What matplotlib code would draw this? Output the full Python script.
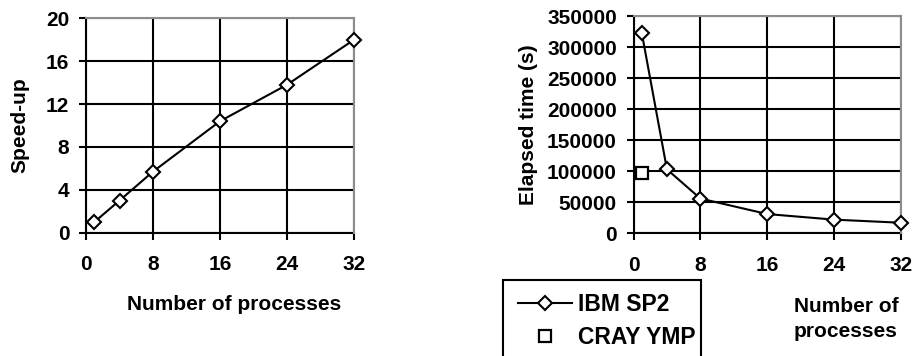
import matplotlib
matplotlib.use("Agg")
import matplotlib.pyplot as plt
from matplotlib.patches import Rectangle

# ---- data ----
procs = [1, 4, 8, 16, 24, 32]
speedup = [1.0, 3.0, 5.7, 10.4, 13.8, 18.0]
ibm_time = [322000, 103000, 56000, 31000, 22000, 17000]
cray_procs = [1]
cray_time = [97000]

x_ticks = [0, 8, 16, 24, 32]
speed_ticks = [0, 4, 8, 12, 16, 20]
time_ticks = [0, 50000, 100000, 150000, 200000, 250000, 300000, 350000]

W, H = 913, 356
FS = 15
LFS = 16.5
plt.rcParams['font.family'] = ['Liberation Sans', 'DejaVu Sans']
plt.rcParams['font.weight'] = 'bold'

fig = plt.figure(figsize=(W / 100, H / 100), dpi=100)

GRID_LW = 1.5
GRAY = '#8c8c8c'


def px_axes(x0, x1, ytop, ybot):
    return fig.add_axes([x0 / W, 1 - ybot / H, (x1 - x0) / W, (ybot - ytop) / H])


def style(ax, xt, yt, ylim):
    ax.set_xlim(0, 32)
    ax.set_ylim(*ylim)
    ax.set_xticks(xt)
    ax.set_yticks(yt)
    ax.grid(True, color='black', linewidth=GRID_LW)
    ax.set_axisbelow(True)
    for s in ['left', 'bottom']:
        ax.spines[s].set_color('black')
        ax.spines[s].set_linewidth(GRID_LW)
    for s in ['top', 'right']:
        ax.spines[s].set_color(GRAY)
        ax.spines[s].set_linewidth(GRID_LW)
        ax.spines[s].set_zorder(2.6)
    ax.tick_params(axis='both', direction='out', length=5, width=GRID_LW,
                   labelsize=FS, color='black')
    ax.tick_params(axis='y', pad=7)
    ax.tick_params(axis='x', pad=11)


# left chart
ax1 = px_axes(86, 354, 18.3, 232.7)
style(ax1, x_ticks, speed_ticks, (0, 20))
ax1.plot(procs, speedup, color='black', linewidth=1.5, marker='D',
         markersize=7.5, markerfacecolor='white', markeredgecolor='black',
         markeredgewidth=1.5, clip_on=False, zorder=3)
ax1.set_ylabel('Speed-up', fontsize=FS, fontweight='bold')
ax1.yaxis.set_label_coords((29 - 86) / 268, 0.5)
fig.text(234 / W, 1 - 310 / H, 'Number of processes', fontsize=FS,
         fontweight='bold', ha='center', va='baseline')

# right chart
ax2 = px_axes(633.5, 901, 16, 233.3)
style(ax2, x_ticks, time_ticks, (0, 350000))
ibm_line, = ax2.plot(procs, ibm_time, color='black', linewidth=1.5, marker='D',
                     markersize=7.5, markerfacecolor='white',
                     markeredgecolor='black', markeredgewidth=1.5,
                     clip_on=False, zorder=3, label='IBM SP2')
cray_pts, = ax2.plot(cray_procs, cray_time, linestyle='none', marker='s',
                     markersize=8.5, markerfacecolor='white',
                     markeredgecolor='black', markeredgewidth=1.6,
                     clip_on=False, zorder=3, label='CRAY YMP')
ax2.set_ylabel('Elapsed time (s)', fontsize=FS, fontweight='bold')
ax2.yaxis.set_label_coords((538 - 633.5) / 267.5, 0.5)
fig.text(846 / W, 1 - 312 / H, 'Number of', fontsize=FS, fontweight='bold',
         ha='center', va='baseline')
fig.text(846 / W, 1 - 337 / H, 'processes', fontsize=FS, fontweight='bold',
         ha='center', va='baseline')

for ax in (ax1, ax2):
    plt.setp(ax.get_xticklabels() + ax.get_yticklabels(), fontweight='bold')

# legend
leg = fig.legend(handles=[ibm_line, cray_pts], loc='upper left',
                 bbox_to_anchor=(518 / W, 1 - 293 / H),
                 bbox_transform=fig.transFigure, frameon=False,
                 prop={'weight': 'bold', 'size': LFS},
                 handlelength=2.36, handletextpad=0.26, labelspacing=0.45,
                 borderpad=0, borderaxespad=0, numpoints=1)
fig.patches.append(Rectangle((503 / W, 1 - 380 / H), (701 - 503) / W,
                             (380 - 280) / H, transform=fig.transFigure,
                             fill=False, edgecolor='black', linewidth=1.5))

fig.savefig('out.png', dpi=100)
